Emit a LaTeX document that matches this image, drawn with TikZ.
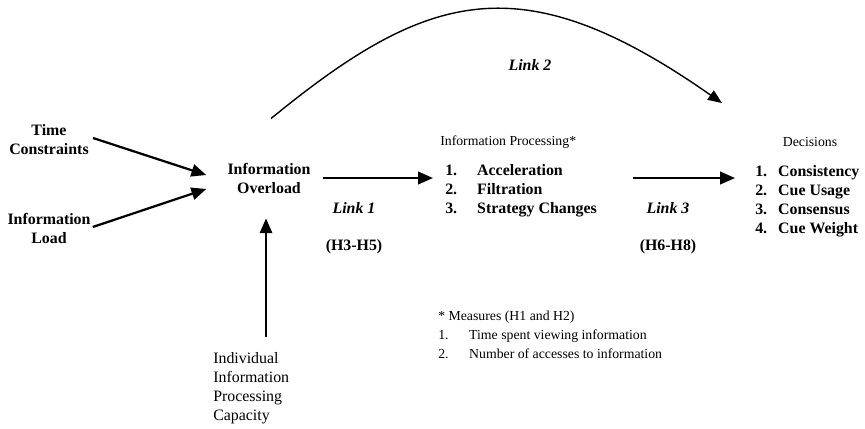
\documentclass[tikz,border=0pt]{standalone}
\usepackage{fontspec}
\setmainfont{Liberation Serif}
\usetikzlibrary{arrows.meta,calc}

\newcommand{\txt}{\fontsize{11.3}{13.5}\selectfont}
\newcommand{\smtxt}{\fontsize{9.8}{13.5}\selectfont}

\begin{document}
\begin{tikzpicture}[x=0.025cm,y=-0.025cm,
  every node/.style={font=\txt,inner sep=0pt},
  box/.style={font=\txt\bfseries,align=center},
  plain/.style={font=\txt,align=left,anchor=west},
  head/.style={font=\smtxt},
  items/.style={font=\txt\bfseries,align=left,anchor=west},
  linklbl/.style={font=\txt\bfseries\itshape},
  hyp/.style={font=\txt\bfseries},
  arr/.style={line width=1.6pt,-{Triangle[length=10.5pt,width=8.8pt]}},
  curvearr/.style={line width=1pt,-{Triangle[length=10pt,width=8pt]}}]

\useasboundingbox (0,0) rectangle (865,428);

\node[box] (time) at (49,140) {Time\\Constraints};
\node[box] (load) at (49,228) {Information\\Load};
\node[box] (overload) at (269,178) {Information\\Overload};
\node[plain] (capacity) at (213,388) {Individual\\Information\\Processing\\Capacity};

\node[head,anchor=west] (proch) at (440,142) {Information Processing*};
\node[items] (proc) at (445,191) {\makebox[22.7pt][l]{1.}Acceleration\\\makebox[22.7pt][l]{2.}Filtration\\\makebox[22.7pt][l]{3.}Strategy Changes};

\node[head] (dech) at (810,142) {Decisions};
\node[items] (dec) at (755,201) {\makebox[16.3pt][l]{1.}Consistency\\\makebox[16.3pt][l]{2.}Cue Usage\\\makebox[16.3pt][l]{3.}Consensus\\\makebox[16.3pt][l]{4.}Cue Weight};

\node[plain,font=\smtxt] (measures) at (438,335) {* Measures (H1 and H2)\\\makebox[22pt][l]{1.}Time spent viewing information\\\makebox[22pt][l]{2.}Number of accesses to information};

\node[linklbl] (link1) at (354,208) {Link 1};
\node[hyp] (hyp1) at (354,247) {(H3-H5)};
\node[linklbl] (link2) at (530,65) {Link 2};
\node[linklbl] (link3) at (668,208) {Link 3};
\node[hyp] (hyp3) at (668,247) {(H6-H8)};

\draw[arr] ($(time.east)+(4,-2)$) -- ($(overload.west)+(-21,-3)$);
\draw[arr] ($(load.east)+(2,-1)$) -- ($(overload.west)+(-21,11)$);
\draw[arr] ($(capacity.north -| overload.south)+(-3,-15)$) -- ($(overload.south)+(-3,25)$);
\draw[arr] ($(overload.east)+(12,0)$) -- ($(overload.east -| proc.west)+(-12,0)$);
\draw[arr] ($(overload.east -| proc.east)+(36,0)$) -- ($(overload.east -| dec.west)+(-20,0)$);
\draw[curvearr] ($(overload.north)+(2,-44)$) .. controls (428,-10) and (522,-37) .. ($(dech.north)+(-88,-34)$);

\end{tikzpicture}
\end{document}
